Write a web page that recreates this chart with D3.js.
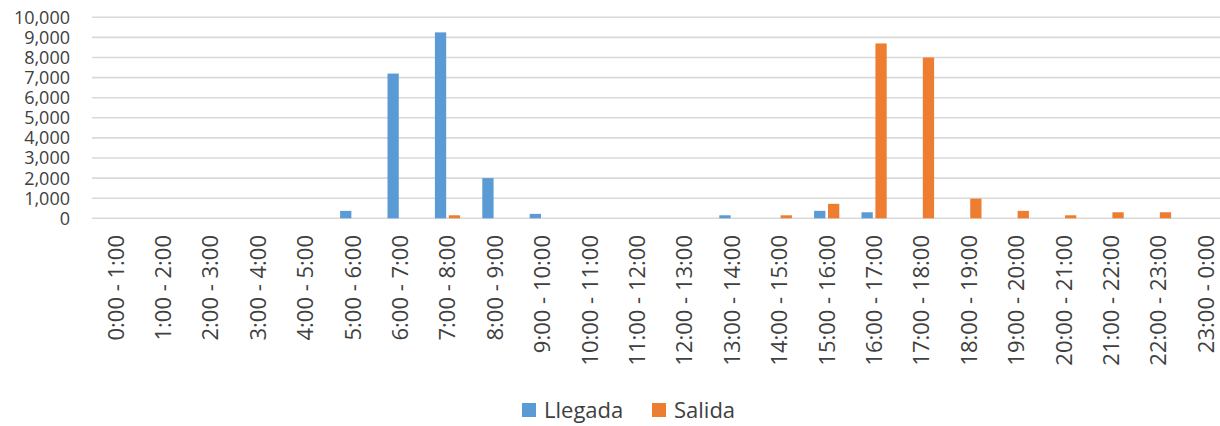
<!DOCTYPE html>
<html>
<head>
<meta charset="utf-8">
<script src="https://cdn.jsdelivr.net/npm/d3@7"></script>
<style>
  html, body { margin: 0; padding: 0; background: #fff; }
  svg { display: block; }
  text { font-family: "Open Sans", sans-serif; fill: #404040; }
</style>
</head>
<body>
<svg id="chart" width="1220" height="426"></svg>
<script>
const categories = ["0:00 - 1:00","1:00 - 2:00","2:00 - 3:00","3:00 - 4:00","4:00 - 5:00","5:00 - 6:00",
  "6:00 - 7:00","7:00 - 8:00","8:00 - 9:00","9:00 - 10:00","10:00 - 11:00","11:00 - 12:00",
  "12:00 - 13:00","13:00 - 14:00","14:00 - 15:00","15:00 - 16:00","16:00 - 17:00","17:00 - 18:00",
  "18:00 - 19:00","19:00 - 20:00","20:00 - 21:00","21:00 - 22:00","22:00 - 23:00","23:00 - 0:00"];
const llegada = [0,0,0,0,0,370,7200,9250,2000,220,0,0,0,150,0,370,300,0,0,0,0,0,0,0];
const salida  = [0,0,0,0,0,0,0,150,0,0,0,0,0,0,150,720,8700,8000,980,370,150,300,300,0];
const seriesNames = ["Llegada","Salida"];
const seriesColors = ["#5b9bd5","#ed7d31"];
const yTicks = [0,1000,2000,3000,4000,5000,6000,7000,8000,9000,10000];

const svg = d3.select("#chart");
const W = 1220;
const plotLeft = 92, plotRight = 1229.6, plotTop = 17.3, plotBottom = 218.3;

const x = d3.scaleBand().domain(categories).range([plotLeft, plotRight]).padding(0);
const bw = x.bandwidth();
const x1 = d3.scaleBand().domain(seriesNames).range([bw/2 - 12.6, bw/2 + 12.6]).paddingInner(0.19);
const y = d3.scaleLinear().domain([0, 10000]).range([plotBottom, plotTop]);

// gridlines
svg.append("g").selectAll("line").data(yTicks).join("line")
  .attr("x1", plotLeft).attr("x2", W)
  .attr("y1", d => y(d)).attr("y2", d => y(d))
  .attr("stroke", "#d9d9d9").attr("stroke-width", 1.6);

// y axis labels
const fmt = d3.format(",");
svg.append("g").selectAll("text").data(yTicks).join("text")
  .attr("x", 70).attr("y", d => y(d)).attr("dy", "0.36em")
  .attr("text-anchor", "end").style("font-size", "18px")
  .text(d => fmt(d));

// bars
const data = [llegada, salida];
data.forEach((vals, si) => {
  svg.append("g").selectAll("rect").data(vals.map((v, i) => ({v, c: categories[i]}))).join("rect")
    .attr("x", d => x(d.c) + x1(seriesNames[si]))
    .attr("width", x1.bandwidth())
    .attr("y", d => y(d.v))
    .attr("height", d => y(0) - y(d.v))
    .attr("fill", seriesColors[si]);
});

// x labels (rotated)
svg.append("g").selectAll("text").data(categories).join("text")
  .attr("transform", d => `translate(${x(d) + bw/2},235) rotate(-90)`)
  .attr("dy", "0.36em")
  .attr("text-anchor", "end").style("font-size", "22px")
  .text(d => d);

// legend
const legendX = [522, 652];
const lg = svg.append("g");
seriesNames.forEach((n, i) => {
  lg.append("rect").attr("x", legendX[i]).attr("y", 403).attr("width", 14).attr("height", 14)
    .attr("fill", seriesColors[i]);
  lg.append("text").attr("x", legendX[i] + 22).attr("y", 418)
    .style("font-size", "22px").text(n);
});
</script>
</body>
</html>
